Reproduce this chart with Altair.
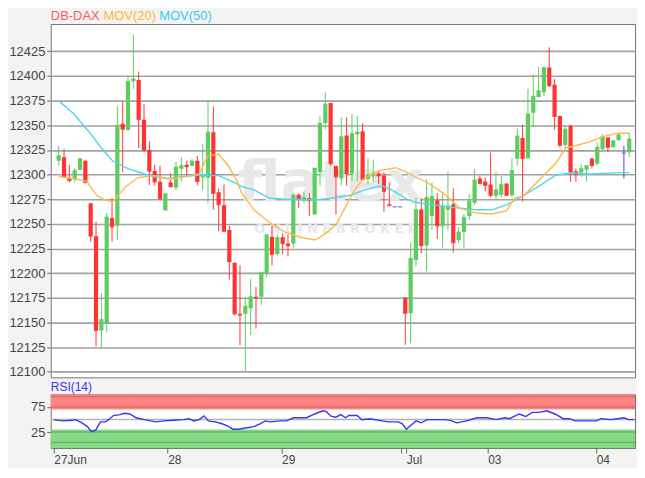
import altair as alt
import pandas as pd

# ---------------- data ----------------
opens = [12314, 12317.5, 12296, 12295, 12305, 12314, 12271, 12237.5, 12142, 12149.5,
         12256, 12248, 12351.6, 12345, 12394.6, 12396, 12355.5, 12325, 12303.6, 12292.7,
         12263.6, 12292, 12287, 12306, 12310, 12309, 12314, 12297, 12296.7, 12343,
         12282, 12269, 12243.8, 12210.7, 12159, 12159, 12164.4, 12176, 12176, 12199.5,
         12237, 12219.4, 12236.5, 12230, 12230, 12279.6, 12273.5, 12276, 12259.6, 12302.6,
         12352, 12372.7, 12308.6, 12296, 12339.7, 12301, 12341, 12344, 12295.6, 12298,
         12301, 12299, 12270, 12267.3, 12267.3, 12175.3, 12159.4, 12213.4, 12264.6, 12228,
         12258, 12274, 12247.5, 12264, 12270, 12233.5, 12241.8, 12258, 12271.4, 12296,
         12293, 12290, 12278.6, 12279.6, 12291, 12279, 12316, 12337, 12316.5, 12362.8,
         12378.7, 12383.5, 12408.5, 12391, 12359.5, 12330, 12349.6, 12303.3, 12302, 12305,
         12316, 12311, 12326, 12337.7, 12327.7, 12335, 12321.7, 12322.7]
highs = [12329, 12326, 12310, 12307, 12316.5, 12314.5, 12271, 12252, 12180, 12261,
         12276, 12369.5, 12374, 12400, 12442, 12404.5, 12371.4, 12334, 12310, 12309,
         12280.5, 12301, 12313, 12317.5, 12314, 12316, 12319, 12330.7, 12375, 12369,
         12286, 12290, 12248, 12210.7, 12208, 12176, 12194, 12186, 12200.8, 12239,
         12248, 12239, 12240.5, 12239, 12281, 12281, 12283, 12281, 12306.6, 12359.5,
         12383.6, 12372.7, 12308.6, 12358, 12358, 12361.5, 12359.5, 12352, 12316.5, 12315,
         12304.3, 12302.6, 12292, 12267.3, 12267.3, 12175.3, 12231.5, 12276, 12276, 12295.4,
         12292, 12281, 12281, 12303, 12286, 12246.7, 12260, 12280, 12306, 12299,
         12297, 12322.5, 12303, 12298.7, 12291, 12316.5, 12347, 12350.6, 12387, 12401.9,
         12409, 12408.5, 12429, 12396.9, 12359.5, 12349, 12350.6, 12306, 12311, 12309,
         12317.7, 12332.7, 12341, 12338.3, 12335, 12341, 12329.3, 12342.7]
lows = [12309, 12296.7, 12292, 12292, 12304, 12291, 12232, 12126, 12123, 12140,
        12232, 12234, 12302.6, 12345, 12387, 12327, 12323, 12289.4, 12289, 12274,
        12263.6, 12287, 12284, 12293, 12297.7, 12308, 12289, 12284.5, 12271, 12264.6,
        12242.5, 12242.5, 12193.5, 12157, 12127, 12100.8, 12137, 12144, 12168, 12196,
        12208, 12217, 12219.4, 12217, 12226, 12266, 12271, 12258, 12259.6, 12288.8,
        12346, 12309, 12259.6, 12288.8, 12288.8, 12293.4, 12293, 12293.4, 12290, 12292,
        12290, 12262.3, 12268.6, 12267.3, 12267.3, 12127.4, 12129, 12206.7, 12220, 12202,
        12244, 12235, 12226, 12244, 12221, 12230, 12225, 12254, 12269, 12290,
        12283, 12277, 12274.6, 12277, 12279, 12276.8, 12309, 12272.7, 12315.8, 12349,
        12378, 12380, 12388.7, 12345.6, 12327.5, 12326, 12292.7, 12292.7, 12297.7, 12292.7,
        12306, 12309.3, 12324.3, 12322.7, 12327, 12334, 12296, 12317.7]
closes = [12319, 12297.7, 12294, 12304, 12316, 12292, 12237.5, 12142, 12153, 12257,
          12247, 12350, 12346, 12394.6, 12397, 12356, 12325, 12303.6, 12292.7, 12275.5,
          12280.5, 12287.8, 12307.6, 12309, 12308, 12313.6, 12293, 12298, 12343, 12281,
          12269.6, 12242.5, 12211.7, 12158.8, 12157.5, 12166.4, 12176, 12175, 12200.8, 12239,
          12219, 12236, 12230, 12228, 12279, 12275.5, 12277, 12273.5, 12306.6, 12352,
          12371.4, 12311, 12297.7, 12338.4, 12301, 12341.7, 12343, 12295, 12299.7, 12301,
          12298.6, 12283, 12268.6, 12267.3, 12267.3, 12159.4, 12215, 12264.6, 12228, 12276.8,
          12278, 12248, 12268, 12268, 12231, 12241.8, 12256.6, 12273, 12294.4, 12291,
          12289, 12279, 12284.5, 12290, 12279, 12304, 12339, 12316.5, 12361.5, 12379.4,
          12385, 12408.5, 12390.3, 12359, 12329.8, 12346, 12302.6, 12300, 12306, 12309,
          12309.3, 12327.7, 12338.3, 12327.7, 12334.3, 12340.3, 12321.7, 12336]

# moving averages (x = candle index)
ma20_x = [0, 2.8, 5.3, 7.1, 8.6, 10.1, 12.5, 14.9, 17.9, 20.9, 23.9, 26.4, 27.9, 30.0,
          31.8, 33.6, 34.2, 36.6, 39.6, 42.7, 45.7, 48.1, 49.9, 52.0, 53.5, 55.3, 57.1,
          60.1, 63.2, 65.0, 66.8, 69.1, 72.2, 75.2, 78.2, 81.3, 84.0, 85.5, 87.3, 90.3,
          93.3, 95.1, 97.0, 99.4, 102.4, 104.8, 107]
ma20_y = [12298, 12296, 12293, 12279, 12274.5, 12272.5, 12287.4, 12297, 12299, 12295.6,
          12298, 12300.6, 12319, 12320.6, 12309, 12292, 12282.5, 12264.3, 12251, 12241,
          12236, 12233.7, 12239.6, 12249, 12264.3, 12282.5, 12295.6, 12304, 12307, 12303,
          12298, 12292, 12281, 12266, 12261, 12260, 12263.4, 12276, 12279, 12295.6,
          12312, 12327, 12329.5, 12333, 12339, 12342, 12342]
ma50_x = [0, 2.8, 5.9, 8.0, 10.1, 13.0, 16.1, 17.9, 20.3, 23.3, 26.4, 30.0, 32.9, 34.2,
          36.6, 39.6, 42.7, 45.6, 48.7, 51.7, 54.7, 57.1, 59.5, 60.8, 62.6, 65.5, 66.8,
          69.1, 75.2, 78.2, 81.3, 84.3, 87.2, 90.3, 93.3, 96.3, 99.4, 105.3, 107]
ma50_y = [12375, 12361.7, 12342, 12327, 12314, 12306, 12300.6, 12298, 12296, 12298,
          12299.6, 12299, 12292, 12288, 12284.5, 12276, 12275, 12274.5, 12274.5, 12276.5,
          12279, 12284, 12287.4, 12288.4, 12284, 12274.5, 12272, 12270, 12266, 12264.3,
          12264.3, 12270, 12279, 12289, 12299.6, 12301.6, 12300.6, 12302, 12302]

# RSI(14)
rsi_x = [0, 1.6, 3.4, 4.0, 5.2, 6.2, 6.9, 7.7, 8.6, 9.5, 10.1, 11.0, 12.2, 13.1, 14.0,
         15.2, 16.7, 18.8, 20.3, 22.1, 23.9, 24.9, 25.8, 26.8, 27.7, 28.5, 29.7, 30.9,
         32.1, 33.0, 34.2, 35.1, 36.9, 38.1, 39.0, 39.9, 41.8, 42.9, 44.2, 46.6, 48.1,
         49.6, 50.2, 51.1, 52.0, 52.9, 53.8, 54.4, 55.9, 56.8, 58.3, 59.9, 61.7, 63.5,
         64.2, 65.0, 65.9, 66.8, 67.7, 68.9, 70.7, 72.2, 73.1, 74.3, 76.1, 78.0, 79.8,
         81.6, 83.1, 84.0, 85.8, 87.0, 88.2, 89.4, 90.9, 92.4, 93.9, 95.1, 96.1, 97.9,
         100.0, 100.9, 102.7, 103.9, 105.1, 106.0, 107]
rsi_y = [49.7, 47.2, 48.4, 49.7, 43.4, 35.8, 26.3, 28.2, 45.2, 45.2, 49.7, 57.9, 59.8,
         62.3, 61, 53.5, 49.7, 45.2, 47.2, 48.4, 49.7, 51.6, 47.2, 49.7, 57.3, 47.2, 45.2,
         42, 37, 30.7, 30.7, 32.6, 35.8, 42, 47.2, 45.2, 47.2, 47.2, 53.5, 53.5, 61, 67.4,
         66.1, 56.6, 54.7, 59.8, 53.5, 57.9, 57.9, 49.7, 51.6, 48.4, 45.2, 45.2, 42, 30.7,
         38.9, 47.2, 43.4, 49.7, 49.7, 49.7, 48.4, 43.4, 47.2, 53.5, 53.5, 49.7, 53.5, 51.6,
         61, 56, 64.2, 64.2, 67.4, 61, 51.6, 51.6, 47.2, 47.2, 47.2, 51.6, 49.7, 51.6, 53.5,
         49.7, 49.7]

y_ticks = [12100, 12125, 12150, 12175, 12200, 12225, 12250, 12275, 12300, 12325,
           12350, 12375, 12400, 12425]
x_tick_pos = [0, 21, 42, 64, 65, 80, 100]
x_tick_text = ["27Jun", "28", "29", "", "Jul", "03", "04"]
title_parts = ["DB-DAX", "MOV(20)", "MOV(50)"]
title_colors = ["#ff5a5a", "#ffb733", "#33ccee"]
title_offsets = [0, 53, 109]
rsi_bands = [(70, 100.3, "#ff8585"), (-6.75, 30, "#88d888")]
rsi_levels = [(96, "#e06a6a"), (75, "#e06a6a"), (50, "#b4b4b4"), (25, "#60bb60"), (4, "#60bb60")]

# ---------------- build ----------------
FONT = "Liberation Sans"
W = 587
H_MAIN = 355
H_RSI = 54
X_DOM = [-0.55, 107.15]

n = len(opens)
df = pd.DataFrame({"i": list(range(n)), "open": opens, "high": highs,
                   "low": lows, "close": closes})
df["dir"] = ["up" if c > o else ("down" if c < o else "flat")
             for o, c in zip(opens, closes)]

xs = alt.Scale(domain=X_DOM, nice=False, zero=False)
ys = alt.Scale(domain=[12094.4, 12452.7], nice=False, zero=False)
cs = alt.Scale(domain=["up", "down", "flat"], range=["#5fcc5f", "#ff3333", "#4a4ad0"])

y_axis = alt.Axis(values=y_ticks, grid=True, gridColor="#a2a2a2", gridWidth=1.6,
                  tickSize=4, labelFontSize=13, labelPadding=2, title=None, format="d")


def X(field):
    return alt.X(field, scale=xs, axis=None)


def Y(field):
    return alt.Y(field, scale=ys, axis=y_axis)


base = alt.Chart(df)
wicks = base.mark_rule(strokeWidth=1, clip=True).encode(
    x=X("i:Q"), y=Y("low:Q"), y2="high:Q",
    color=alt.Color("dir:N", scale=cs, legend=None))
bodies = base.mark_bar(size=4.2, clip=True).encode(
    x=X("i:Q"), y=Y("open:Q"), y2="close:Q",
    color=alt.Color("dir:N", scale=cs, legend=None))
caps = base.mark_tick(size=4.2, thickness=1.2, orient="horizontal", clip=True).encode(
    x=X("i:Q"), y=Y("close:Q"),
    color=alt.Color("dir:N", scale=cs, legend=None))
ma20 = alt.Chart(pd.DataFrame({"x": ma20_x, "v": ma20_y})).mark_line(
    color="#ffb84a", strokeWidth=1.4, clip=True).encode(x=X("x:Q"), y=Y("v:Q"))
ma50 = alt.Chart(pd.DataFrame({"x": ma50_x, "v": ma50_y})).mark_line(
    color="#4fd6ef", strokeWidth=1.4, clip=True).encode(x=X("x:Q"), y=Y("v:Q"))

wm1 = alt.Chart(pd.DataFrame({"t": ["flatex"], "x": [51], "y": [12290]})).mark_text(
    font="DejaVu Sans", fontWeight="bold", fontSize=58, color="#e8e8e8").encode(
    text="t:N", x=X("x:Q"), y=Y("y:Q"))
wm2 = alt.Chart(pd.DataFrame({"t": ["O N L I N E   B R O K E R"], "x": [52], "y": [12245]})).mark_text(
    font="DejaVu Sans", fontWeight="bold", fontSize=13, color="#e8e8e8").encode(
    text="t:N", x=X("x:Q"), y=Y("y:Q"))

title_layers = [
    alt.Chart(pd.DataFrame({"t": [t]})).mark_text(
        fontSize=13, font=FONT, color=c, align="left", baseline="alphabetic").encode(
        text="t:N", x=alt.value(off), y=alt.value(-4))
    for t, c, off in zip(title_parts, title_colors, title_offsets)
]

main = alt.layer(wm1, wm2, wicks, bodies, caps, ma50, ma20, *title_layers).properties(
    width=W, height=H_MAIN)

# RSI panel
rys = alt.Scale(domain=[-6.75, 100.3], nice=False, zero=False)
rsi_y_axis = alt.Axis(values=[25, 75], tickSize=4, grid=False,
                      labelFontSize=13, labelPadding=2, title=None)
label_expr = " : ".join(f"datum.value == {v} ? '{t}'" for v, t in zip(x_tick_pos, x_tick_text)) + " : ''"
rsi_x_axis = alt.Axis(values=x_tick_pos, labelExpr=label_expr, labelAlign="left",
                      labelOverlap=False, labelFontSize=12, tickSize=5, labelPadding=2,
                      grid=False, title=None, labelFlush=False)


def RX(field):
    return alt.X(field, scale=xs, axis=rsi_x_axis)


def RY(field):
    return alt.Y(field, scale=rys, axis=rsi_y_axis)


band_layers = [
    alt.Chart(pd.DataFrame({"lo": [lo], "hi": [hi], "x0": [X_DOM[0]], "x1": [X_DOM[1]]}))
    .mark_rect(color=c).encode(x=RX("x0:Q"), x2="x1:Q", y=RY("lo:Q"), y2="hi:Q")
    for lo, hi, c in rsi_bands
]
line_layers = [
    alt.Chart(pd.DataFrame({"v": [v], "x0": [X_DOM[0]], "x1": [X_DOM[1]]}))
    .mark_rule(strokeWidth=1.5, color=c).encode(x=RX("x0:Q"), x2="x1:Q", y=RY("v:Q"))
    for v, c in rsi_levels
]
rsi_line = alt.Chart(pd.DataFrame({"x": rsi_x, "v": rsi_y})).mark_line(
    color="#3636f0", strokeWidth=1.4, clip=True).encode(x=RX("x:Q"), y=RY("v:Q"))
rsi_label = alt.Chart(pd.DataFrame({"t": ["RSI(14)"]})).mark_text(
    fontSize=12, font=FONT, color="#3333ff", align="left", baseline="alphabetic").encode(
    text="t:N", x=alt.value(0), y=alt.value(-3))

rsi = alt.layer(*band_layers, *line_layers, rsi_line, rsi_label).properties(
    width=W, height=H_RSI)

chart = alt.vconcat(main, rsi, spacing=1).properties(padding=0).configure(
    background="#f3f3f3"
).configure_view(
    stroke="#777777", strokeWidth=1, fill="white"
).configure_axis(labelFont=FONT, labelColor="#444444", tickColor="#666666", domain=False)

chart.save("out.html", embed_options={"renderer": "svg", "actions": False})
